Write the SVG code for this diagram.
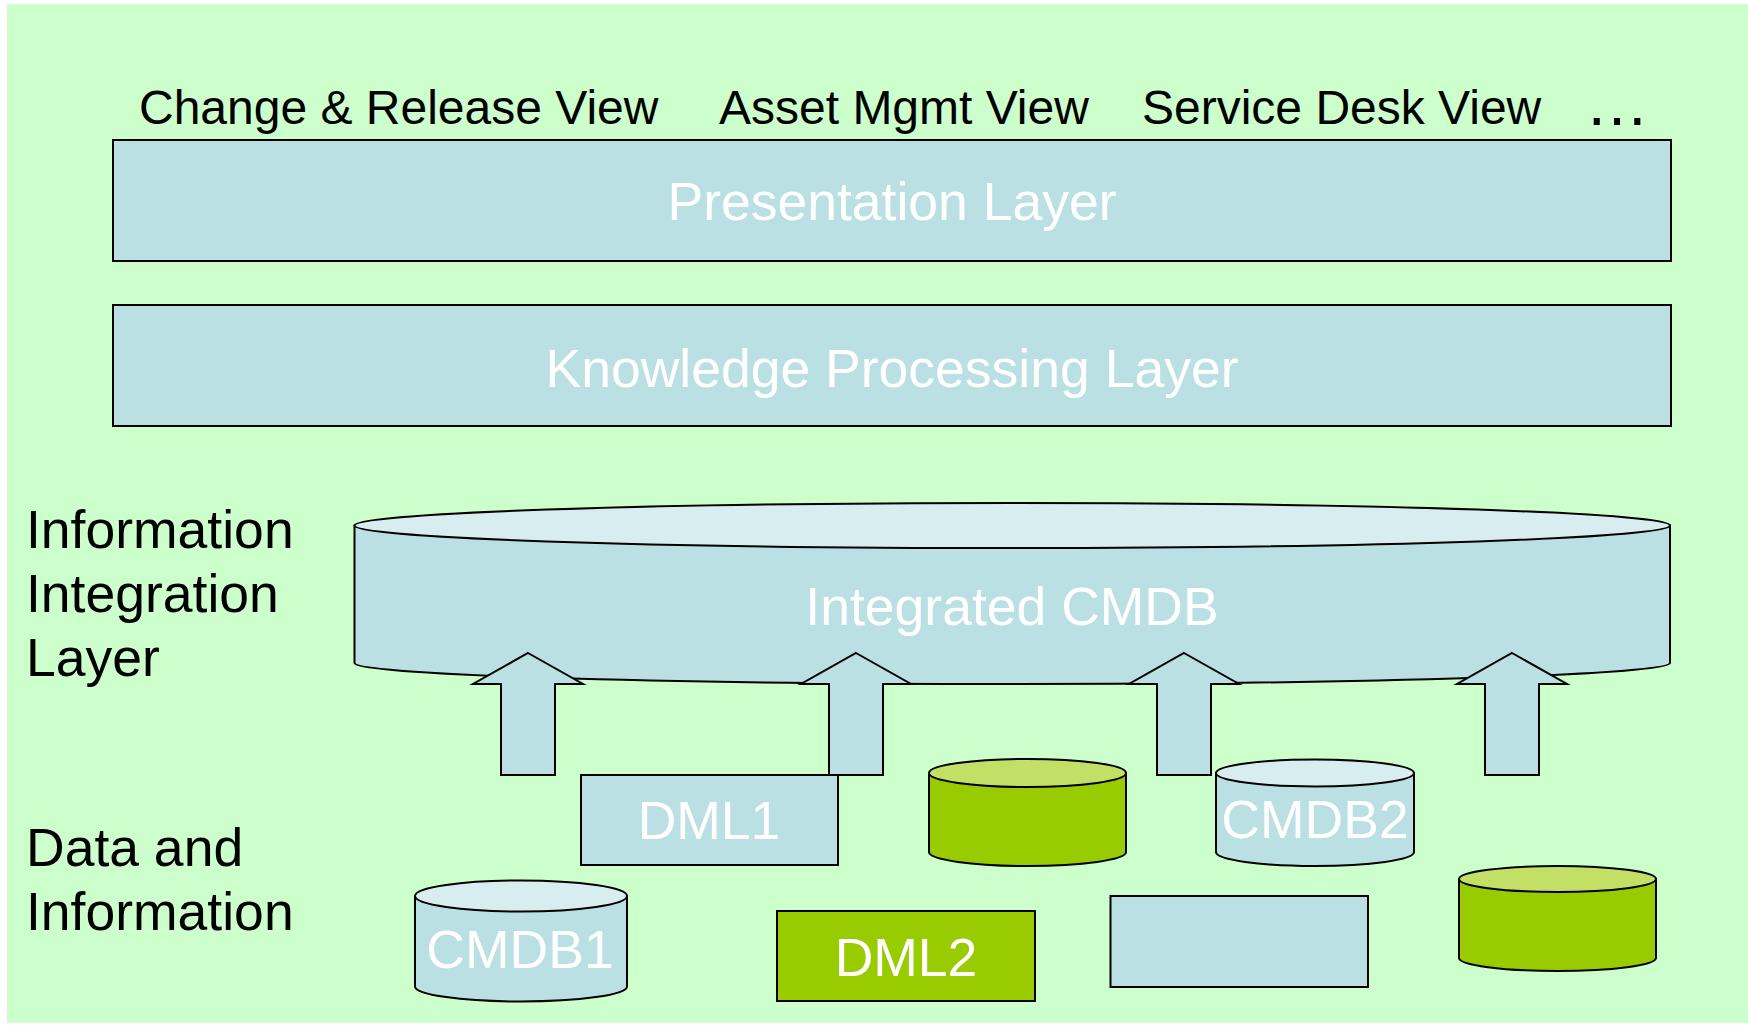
<svg xmlns="http://www.w3.org/2000/svg" width="1748" height="1025" viewBox="0 0 1748 1025">
<style>
.lbl{font-family:"Liberation Sans",Arial,sans-serif;fill:#000;}
.wt{font-family:"Liberation Sans",Arial,sans-serif;fill:#fff;font-size:53.5px;text-anchor:middle;}
.box{fill:#BAE0E3;stroke:#000;stroke-width:2;}
.gbox{fill:#99CC00;stroke:#000;stroke-width:2;}
.btop{fill:#D8EDEF;stroke:#000;stroke-width:2;}
.gtop{fill:#C2DF66;stroke:#000;stroke-width:2;}
.arr{fill:#BAE0E3;stroke:#000;stroke-width:2;stroke-linejoin:miter;}
</style>
<rect x="7" y="4" width="1741" height="1019" fill="#CCFFCC"/>

<g id="view-labels" class="lbl" font-size="48">
<text x="139" y="124">Change &amp; Release View</text>
<text x="719" y="124">Asset Mgmt View</text>
<text x="1142" y="124">Service Desk View</text>
<text x="1585" y="125" font-size="64">…</text>
</g>

<g id="layer-labels" class="lbl" font-size="53.5">
<text x="26" y="548">Information</text>
<text x="26" y="612">Integration</text>
<text x="26" y="676">Layer</text>
<text x="26" y="866">Data and</text>
<text x="26" y="930">Information</text>
</g>

<g id="presentation-layer">
<rect class="box" x="113" y="140" width="1558" height="121"/>
<text class="wt" x="892" y="220">Presentation Layer</text>
</g>

<g id="knowledge-processing-layer">
<rect class="box" x="113" y="305" width="1558" height="121"/>
<text class="wt" x="892" y="387">Knowledge Processing Layer</text>
</g>

<g id="integrated-cmdb">
<path class="box" d="M354.5,525.5 L354.5,663 A657.75,21 0 0 0 1670,663 L1670,525.5 Z"/>
<ellipse class="btop" cx="1012.25" cy="525.5" rx="657.75" ry="22.5"/>
<text class="wt" x="1012" y="625">Integrated CMDB</text>
</g>

<g id="connectors">
<polygon class="arr" points="528,653 583,684 555,684 555,775 501,775 501,684 473,684"/>
<polygon class="arr" points="856,653 911,684 883,684 883,775 829,775 829,684 801,684"/>
<polygon class="arr" points="1184,653 1239,684 1211,684 1211,775 1157,775 1157,684 1129,684"/>
<polygon class="arr" points="1512,653 1567,684 1539,684 1539,775 1485,775 1485,684 1457,684"/>
</g>

<g id="dml1">
<rect class="box" x="581" y="775" width="257" height="90"/>
<text class="wt" x="709" y="839">DML1</text>
</g>

<g id="green-db-1">
<path class="gbox" d="M929,773 L929,852 A98.5,14 0 0 0 1126,852 L1126,773 Z"/>
<ellipse class="gtop" cx="1027.5" cy="773" rx="98.5" ry="14"/>
</g>

<g id="cmdb2">
<path class="box" d="M1216,773 L1216,852 A99,14 0 0 0 1414,852 L1414,773 Z"/>
<ellipse class="btop" cx="1315" cy="773" rx="99" ry="13.5"/>
<text class="wt" x="1315" y="838">CMDB2</text>
</g>

<g id="cmdb1">
<path class="box" d="M415,896 L415,986.5 A106,15 0 0 0 627,986.5 L627,896 Z"/>
<ellipse class="btop" cx="521" cy="896" rx="106" ry="15.5"/>
<text class="wt" x="520" y="968">CMDB1</text>
</g>

<g id="dml2">
<rect class="gbox" x="777" y="911" width="258" height="90"/>
<text class="wt" x="906" y="976">DML2</text>
</g>

<g id="blank-box">
<rect class="box" x="1110.5" y="896" width="257.5" height="91"/>
</g>

<g id="green-db-2">
<path class="gbox" d="M1459,879 L1459,958 A98.5,13 0 0 0 1656,958 L1656,879 Z"/>
<ellipse class="gtop" cx="1557.5" cy="879" rx="98.5" ry="13"/>
</g>
</svg>
